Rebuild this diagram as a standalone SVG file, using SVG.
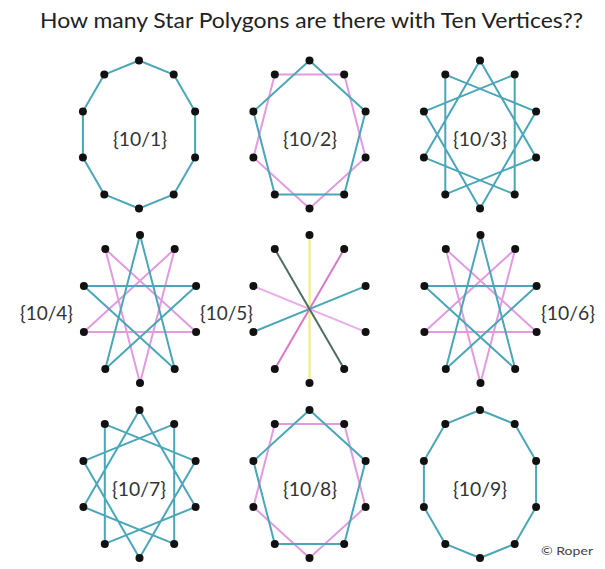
<svg xmlns="http://www.w3.org/2000/svg" xmlns:xlink="http://www.w3.org/1999/xlink" width="605" height="569" viewBox="0 0 605 569">
<style>
.bg{fill:#ffffff}
.t{stroke:#4aa6b8;stroke-width:2;fill:none;stroke-linejoin:round}
.p{stroke:#e29ae0;stroke-width:2;fill:none;stroke-linejoin:round}
.y{stroke:#eeee88;stroke-width:2.2;fill:none}
.g{stroke:#4f6e62;stroke-width:2;fill:none}
.m{stroke:#d878c8;stroke-width:2;fill:none}
.lp{stroke:#eaaee8;stroke-width:2;fill:none}
.dot{fill:#111111}
.lbl{font-family:Lato,"Open Sans","DejaVu Sans",sans-serif;font-size:20px;fill:#333333}
.title{font-family:Lato,"Open Sans","DejaVu Sans",sans-serif;font-size:21px;fill:#222222}
.cr{font-family:Lato,"Open Sans","DejaVu Sans",sans-serif;font-size:11px;fill:#444444}
</style>
<defs>
<g id="dots" class="dot">
<circle cx="0" cy="-74" r="4"/><circle cx="34.7" cy="-59.9" r="4"/><circle cx="56.1" cy="-22.9" r="4"/><circle cx="56.1" cy="22.9" r="4"/><circle cx="34.7" cy="59.9" r="4"/><circle cx="0" cy="74" r="4"/><circle cx="-34.7" cy="59.9" r="4"/><circle cx="-56.1" cy="22.9" r="4"/><circle cx="-56.1" cy="-22.9" r="4"/><circle cx="-34.7" cy="-59.9" r="4"/>
</g>
<g id="s1"><polygon class="t" points="0,-74 34.7,-59.9 56.1,-22.9 56.1,22.9 34.7,59.9 0,74 -34.7,59.9 -56.1,22.9 -56.1,-22.9 -34.7,-59.9"/></g>
<g id="s2"><polygon class="p" points="34.7,-59.9 56.1,22.9 0,74 -56.1,22.9 -34.7,-59.9"/><polygon class="t" points="0,-74 56.1,-22.9 34.7,59.9 -34.7,59.9 -56.1,-22.9"/></g>
<g id="s3"><polygon class="t" points="0,-74 56.1,22.9 -34.7,59.9 -34.7,-59.9 56.1,-22.9 0,74 -56.1,-22.9 34.7,-59.9 34.7,59.9 -56.1,22.9"/></g>
<g id="s4"><polygon class="p" points="34.7,-59.9 0,74 -34.7,-59.9 56.1,22.9 -56.1,22.9"/><polygon class="t" points="0,-74 34.7,59.9 -56.1,-22.9 56.1,-22.9 -34.7,59.9"/></g>
</defs>
<rect class="bg" x="0" y="0" width="605" height="569"/>
<text class="title" x="40" y="28" textLength="543" lengthAdjust="spacingAndGlyphs">How many Star Polygons are there with Ten Vertices??</text>
<g id="connectors">
<use xlink:href="#s1" transform="translate(139,134.5)"/>
<use xlink:href="#s2" transform="translate(309.5,134.5)"/>
<use xlink:href="#s3" transform="translate(480,134.5)"/>
<use xlink:href="#s4" transform="translate(140,309)"/>
<g transform="translate(309.5,309)">
<line class="y" x1="0" y1="-74" x2="0" y2="74"/>
<line class="lp" x1="-56.1" y1="-22.9" x2="56.1" y2="22.9"/>
<line class="m" x1="34.7" y1="-59.9" x2="-34.7" y2="59.9"/>
<line class="t" x1="56.1" y1="-22.9" x2="-56.1" y2="22.9"/>
<line class="g" x1="-34.7" y1="-59.9" x2="34.7" y2="59.9"/>
</g>
<use xlink:href="#s4" transform="translate(480.5,309)"/>
<use xlink:href="#s3" transform="translate(139.5,484)"/>
<use xlink:href="#s2" transform="translate(309.5,484)"/>
<use xlink:href="#s1" transform="translate(480,484)"/>
</g>
<g id="n101"><use xlink:href="#dots" transform="translate(139,134.5)"/><text class="lbl" x="113" y="146" textLength="54" lengthAdjust="spacingAndGlyphs">{10/1}</text></g>
<g id="n102"><use xlink:href="#dots" transform="translate(309.5,134.5)"/><text class="lbl" x="283" y="146" textLength="54" lengthAdjust="spacingAndGlyphs">{10/2}</text></g>
<g id="n103"><use xlink:href="#dots" transform="translate(480,134.5)"/><text class="lbl" x="453" y="146" textLength="54" lengthAdjust="spacingAndGlyphs">{10/3}</text></g>
<g id="n104"><use xlink:href="#dots" transform="translate(140,309)"/><text class="lbl" x="20" y="320" textLength="53" lengthAdjust="spacingAndGlyphs">{10/4}</text></g>
<g id="n105"><use xlink:href="#dots" transform="translate(309.5,309)"/><text class="lbl" x="200" y="320" textLength="53" lengthAdjust="spacingAndGlyphs">{10/5}</text></g>
<g id="n106"><use xlink:href="#dots" transform="translate(480.5,309)"/><text class="lbl" x="541" y="320" textLength="54" lengthAdjust="spacingAndGlyphs">{10/6}</text></g>
<g id="n107"><use xlink:href="#dots" transform="translate(139.5,484)"/><text class="lbl" x="112" y="496" textLength="54" lengthAdjust="spacingAndGlyphs">{10/7}</text></g>
<g id="n108"><use xlink:href="#dots" transform="translate(309.5,484)"/><text class="lbl" x="283" y="496" textLength="54" lengthAdjust="spacingAndGlyphs">{10/8}</text></g>
<g id="n109"><use xlink:href="#dots" transform="translate(480,484)"/><text class="lbl" x="453" y="496" textLength="54" lengthAdjust="spacingAndGlyphs">{10/9}</text></g>
<text class="cr" x="541" y="555" textLength="52" lengthAdjust="spacingAndGlyphs">© Roper</text>
</svg>
